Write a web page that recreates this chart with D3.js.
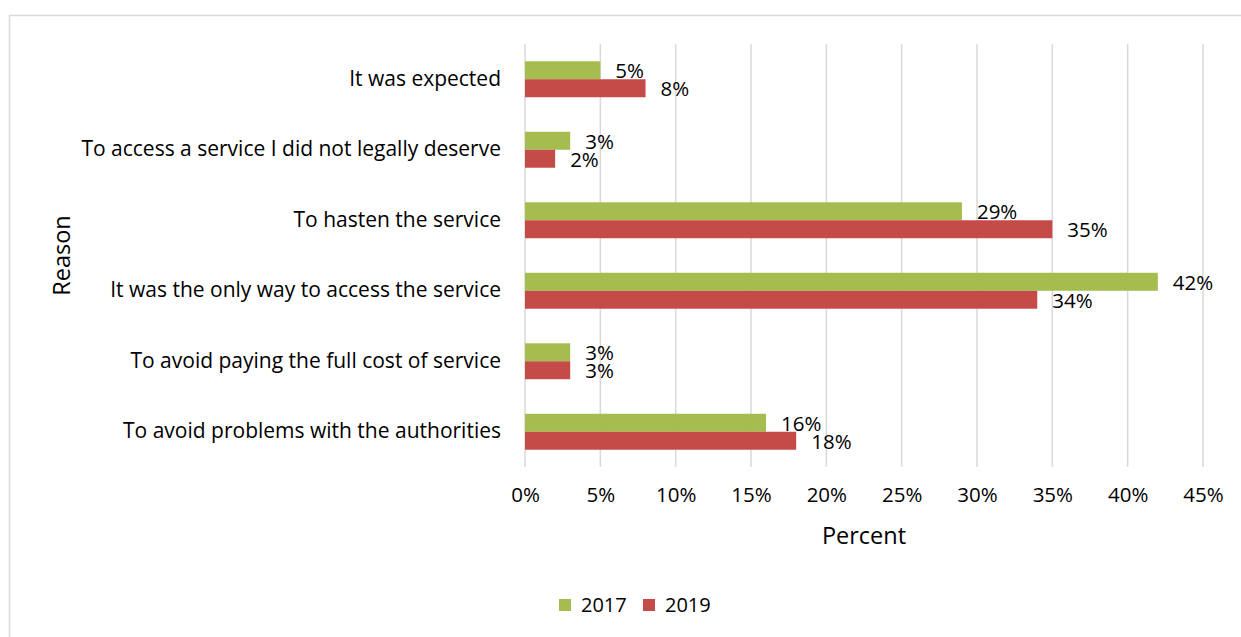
<!DOCTYPE html>
<html>
<head>
<meta charset="utf-8">
<script src="https://cdn.jsdelivr.net/npm/d3@7"></script>
<style>
  body { margin: 0; background: #fff; }
  svg text { font-family: "Open Sans", sans-serif; fill: #000; }
</style>
</head>
<body>
<div id="chart"></div>
<script>
const reasons = [
  "It was expected",
  "To access a service I did not legally deserve",
  "To hasten the service",
  "It was the only way to access the service",
  "To avoid paying the full cost of service",
  "To avoid problems with the authorities"
];
const years = ["2017", "2019"];
const values2017 = [5, 3, 29, 42, 3, 16];
const values2019 = [8, 2, 35, 34, 3, 18];
const ticks = [0, 5, 10, 15, 20, 25, 30, 35, 40, 45];
const colors = ["#A5BC4E", "#C44B48"];

const width = 1241, height = 637;
const margin = { top: 44, right: 38, bottom: 170, left: 525 };
const font = "'Open Sans', sans-serif";

const svg = d3.select("#chart").append("svg")
  .attr("width", width).attr("height", height);

// outer frame (only top and left edges are visible in the picture)
svg.append("path")
  .attr("d", `M9.5,${height} V15.5 H${width}`)
  .attr("fill", "none").attr("stroke", "#D9D9D9").attr("stroke-width", 1.5);

const x = d3.scaleLinear().domain([0, 45]).range([margin.left, width - margin.right]);
const y = d3.scaleBand().domain(reasons).range([margin.top, height - margin.bottom]).paddingInner(0.49).paddingOuter(0.245);
const yInner = d3.scaleBand().domain(years).range([0, y.bandwidth()]);

const rows = reasons.map((r, i) => ({ reason: r, vals: [values2017[i], values2019[i]] }));

// gridlines
svg.append("g")
  .selectAll("line")
  .data(ticks)
  .join("line")
  .attr("x1", d => x(d)).attr("x2", d => x(d))
  .attr("y1", margin.top).attr("y2", height - margin.bottom)
  .attr("stroke", "#D9D9D9").attr("stroke-width", 1.5);

// x axis tick labels
const xAxis = d3.axisBottom(x).tickValues(ticks).tickFormat(d => d + "%").tickSize(0).tickPadding(20);
const gx = svg.append("g").attr("transform", `translate(0,${height - margin.bottom})`).call(xAxis);
gx.select(".domain").remove();
gx.selectAll("text").attr("font-size", 20.5).style("font-family", font);

// y axis labels
const yAxis = d3.axisLeft(y).tickSize(0).tickPadding(24);
const gy = svg.append("g").attr("transform", `translate(${margin.left},0)`).call(yAxis);
gy.select(".domain").remove();
gy.selectAll("text").attr("font-size", 21).style("font-family", font);

// bars
const group = svg.append("g")
  .selectAll("g")
  .data(rows)
  .join("g")
  .attr("transform", d => `translate(0,${y(d.reason)})`);

group.selectAll("rect")
  .data(d => d.vals.map((v, j) => ({ v, year: years[j], j })))
  .join("rect")
  .attr("x", x(0))
  .attr("y", d => yInner(d.year))
  .attr("width", d => x(d.v) - x(0))
  .attr("height", yInner.bandwidth())
  .attr("fill", d => colors[d.j]);

group.selectAll("text")
  .data(d => d.vals.map((v, j) => ({ v, year: years[j], j })))
  .join("text")
  .attr("x", d => x(d.v) + 15)
  .attr("y", d => yInner(d.year) + yInner.bandwidth() / 2 + 1)
  .attr("dy", "0.35em")
  .attr("font-size", 20.5)
  .text(d => d.v + "%");

// axis titles
svg.append("text")
  .attr("x", (x(0) + x(45)) / 2).attr("y", 536)
  .attr("text-anchor", "middle").attr("dy", "0.35em")
  .attr("font-size", 23.5)
  .text("Percent");

svg.append("text")
  .attr("transform", `translate(62,${(margin.top + height - margin.bottom) / 2}) rotate(-90)`)
  .attr("text-anchor", "middle").attr("dy", "0.35em")
  .attr("font-size", 23.5)
  .text("Reason");

// legend
const legend = svg.append("g").attr("transform", "translate(559,605)");
const item = legend.selectAll("g")
  .data(years)
  .join("g")
  .attr("transform", (d, i) => `translate(${i * 84},0)`);
item.append("rect")
  .attr("x", 0).attr("y", -6).attr("width", 12).attr("height", 12)
  .attr("fill", (d, i) => colors[i]);
item.append("text")
  .attr("x", 22).attr("dy", "0.35em")
  .attr("font-size", 20)
  .text(d => d);
</script>
</body>
</html>
